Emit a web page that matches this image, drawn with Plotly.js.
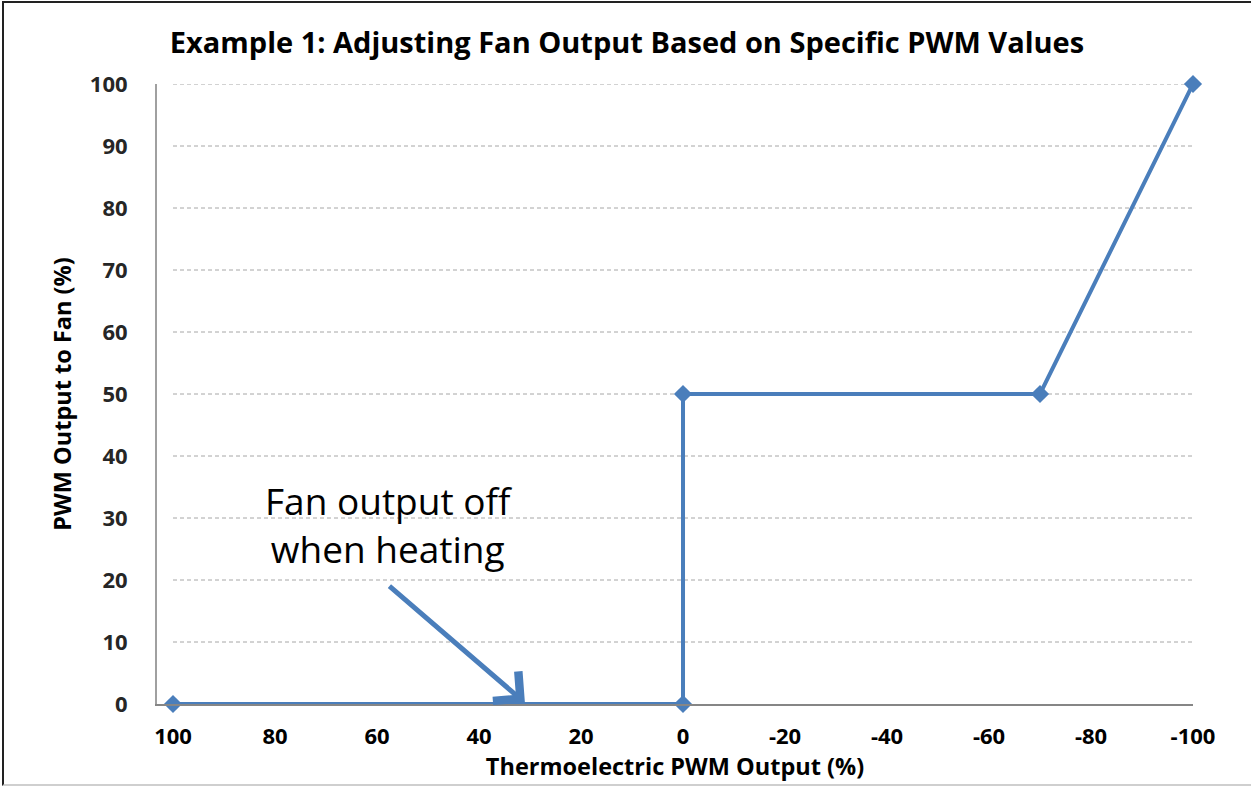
<!DOCTYPE html>
<html>
<head>
<meta charset="utf-8">
<script src="https://cdn.plot.ly/plotly-3.0.1.min.js"></script>
<style>
  html, body { margin: 0; padding: 0; background: #fff; }
  #chart { width: 1251px; height: 788px; }
  #frame { position: absolute; left: 2px; top: 1px; width: 1249px; height: 785px;
           border-left: 2px solid #222; border-top: 2px solid #222; border-bottom: 2px solid #cfcfcf;
           box-sizing: border-box; pointer-events: none; }
</style>
</head>
<body>
<div id="chart"></div>
<div id="frame"></div>
<script>
// ---- data ----
const thermoPWM = [100, 0, 0, -70, -100];   // Thermoelectric PWM Output (%)
const fanPWM    = [0, 0, 50, 50, 100];      // PWM Output to Fan (%)
const xTickVals = [100, 80, 60, 40, 20, 0, -20, -40, -60, -80, -100];
const xTickText = ["100", "80", "60", "40", "20", "0", "-20", "-40", "-60", "-80", "-100"];
const yTickVals = [0, 10, 20, 30, 40, 50, 60, 70, 80, 90, 100];
const yTickText = ["0", "10", "20", "30", "40", "50", "60", "70", "80", "90", "100"];
const chartTitle = "Example 1: Adjusting Fan Output Based on Specific PWM Values";
const xTitle = "Thermoelectric PWM Output (%)";
const yTitle = "PWM Output to Fan (%)";
const noteText = "Fan output off<br>when heating";

const blue = "#4A7EBB";
const FONT = "Open Sans, Liberation Sans, sans-serif";

// gridlines (from first to last category only, as in the original)
const gridShapes = yTickVals.filter(v => v > 0).map(v => ({
  type: "line", xref: "x", yref: "y", layer: "below",
  x0: xTickVals[0], x1: xTickVals[xTickVals.length - 1], y0: v, y1: v,
  line: { color: "#a6a6a6", width: 1, dash: "4px,3px" }
}));

const trace = {
  x: thermoPWM, y: fanPWM, type: "scatter", mode: "lines+markers",
  line: { color: blue, width: 4 },
  marker: { symbol: "diamond", size: 14, color: blue },
  cliponaxis: false, hoverinfo: "skip"
};

const layout = {
  width: 1251, height: 788,
  margin: { l: 157, r: 58, t: 84, b: 84 },
  paper_bgcolor: "#fff", plot_bgcolor: "#fff",
  showlegend: false,
  font: { family: FONT, color: "#000" },
  title: {
    text: "<b>" + chartTitle + "</b>",
    font: { family: FONT, size: 29, color: "#000" },
    xref: "container", yref: "container", x: 627 / 1251, xanchor: "center",
    y: 1 - 43 / 788, yanchor: "middle"
  },
  xaxis: {
    range: [103.14, -100], autorange: false,
    tickvals: xTickVals, ticktext: xTickText,
    tickfont: { family: FONT, size: 22, color: "#000", weight: "bold" },
    ticks: "outside", ticklen: 12, tickcolor: "rgba(0,0,0,0)",
    showgrid: false, zeroline: false,
    showline: true, linecolor: "#868686", linewidth: 1.5,
    title: { text: "<b>" + xTitle + "</b>", font: { family: FONT, size: 23.5, color: "#000" }, standoff: 4 }
  },
  yaxis: {
    range: [0, 100], autorange: false,
    tickvals: yTickVals, ticktext: yTickText,
    tickfont: { family: FONT, size: 22, color: "#262626", weight: "bold" },
    ticks: "outside", ticklen: 23, tickcolor: "rgba(0,0,0,0)",
    showgrid: false, zeroline: false,
    showline: true, linecolor: "#a0a0a0", linewidth: 2,
    title: { text: "<b>" + yTitle + "</b>", font: { family: FONT, size: 23.5, color: "#000" }, standoff: 12 }
  },
  shapes: gridShapes,
  annotations: [
    {
      xref: "x", yref: "y", x: 57.8, y: 29,
      text: noteText, showarrow: false, align: "center",
      xanchor: "center", yanchor: "middle",
      font: { family: FONT, size: 37, color: "#000" }
    },
    {
      xref: "x", yref: "y", x: 31, y: 0.2,
      text: "", showarrow: true, arrowhead: 4, arrowsize: 1.5, arrowwidth: 5,
      arrowcolor: blue, ax: -137, ay: -118, standoff: 0
    }
  ]
};

Plotly.newPlot("chart", [trace], layout, { displayModeBar: false, staticPlot: true });
</script>
</body>
</html>
